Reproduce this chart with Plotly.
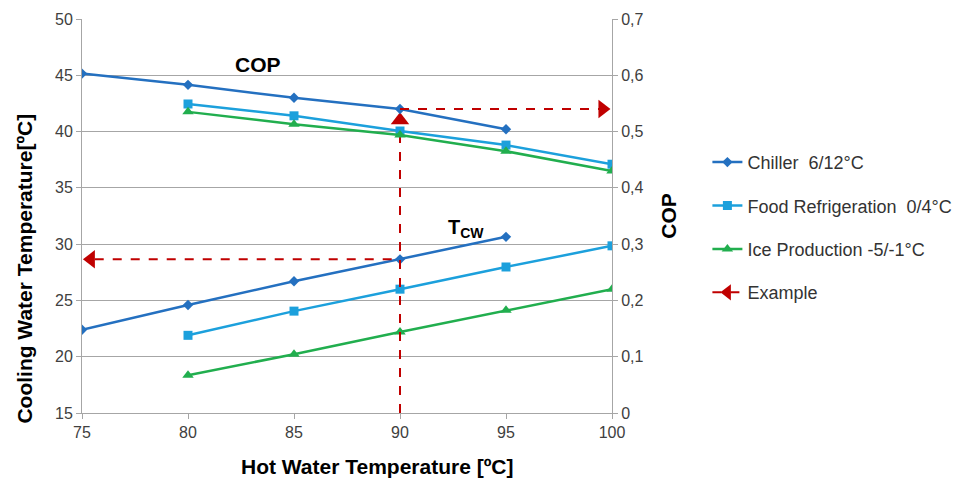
import plotly.graph_objects as go

hot_water = [75, 80, 85, 90, 95, 100]

chiller_x = [75, 80, 85, 90, 95]
chiller_cop = [0.603, 0.583, 0.560, 0.540, 0.504]
chiller_tcw = [22.4, 24.6, 26.7, 28.65, 30.65]

food_x = [80, 85, 90, 95, 100]
food_cop = [0.549, 0.528, 0.501, 0.476, 0.442]
food_tcw = [21.9, 24.05, 26.0, 27.97, 29.85]

ice_x = [80, 85, 90, 95, 100]
ice_cop = [0.535, 0.513, 0.494, 0.465, 0.430]
ice_tcw = [18.36, 20.22, 22.2, 24.13, 26.0]

example_x = 90
example_tcw = 28.65
example_cop = 0.54
example_top = 41.0

left_ticks = [15, 20, 25, 30, 35, 40, 45, 50]
right_ticks = [0, 0.1, 0.2, 0.3, 0.4, 0.5, 0.6, 0.7]
right_ticktext = ["0", "0,1", "0,2", "0,3", "0,4", "0,5", "0,6", "0,7"]

C_CH = "#2470C0"
C_FO = "#1CA0DC"
C_ICE = "#21AE4E"
C_RED = "#C00000"

FONT = "Liberation Sans, Arial, sans-serif"

W, H = 962, 479
ML, MR, MT, MB = 81.5, 349.5, 19, 66
PW, PH = W - ML - MR, H - MT - MB

def px_to_paper(px, py):
    return (px - ML) / PW, 1 - (py - MT) / PH

fig = go.Figure()

series = [
    ("Chiller  6/12°C", chiller_x, chiller_cop, chiller_tcw, C_CH, "diamond", 8),
    ("Food Refrigeration  0/4°C", food_x, food_cop, food_tcw, C_FO, "square", 9),
    ("Ice Production -5/-1°C", ice_x, ice_cop, ice_tcw, C_ICE, "triangle-up", 10),
]
for name, xs, cop, tcw, col, sym, sz in series:
    fig.add_trace(go.Scatter(x=xs, y=tcw, mode="lines+markers", name=name, legendgroup=name,
                             line=dict(color=col, width=2.5), marker=dict(symbol=sym, size=sz, color=col),
                             yaxis="y"))
    fig.add_trace(go.Scatter(x=xs, y=cop, mode="lines+markers", name=name, legendgroup=name,
                             showlegend=False,
                             line=dict(color=col, width=2.5), marker=dict(symbol=sym, size=sz, color=col),
                             yaxis="y2"))

# Example dashed lines
fig.add_trace(go.Scatter(x=[example_x, example_x], y=[15, example_top - 0.8], mode="lines",
                         line=dict(color=C_RED, width=2, dash="dash"), showlegend=False, yaxis="y",
                         cliponaxis=False, legendgroup="ex"))
fig.add_trace(go.Scatter(x=[example_x], y=[example_top], mode="markers",
                         marker=dict(symbol="triangle-up", size=16, color=C_RED), showlegend=False,
                         yaxis="y", legendgroup="ex"))
fig.add_trace(go.Scatter(x=[hot_water[0] + 0.6, example_x], y=[example_tcw, example_tcw], mode="lines",
                         line=dict(color=C_RED, width=2, dash="dash"), showlegend=False, yaxis="y",
                         legendgroup="ex"))
fig.add_trace(go.Scatter(x=[hot_water[0] + 0.42], y=[example_tcw], mode="markers",
                         marker=dict(symbol="triangle-left", size=16, color=C_RED), showlegend=False,
                         yaxis="y", cliponaxis=False, legendgroup="ex"))
fig.add_trace(go.Scatter(x=[example_x, hot_water[-1] - 0.6], y=[example_cop, example_cop], mode="lines",
                         line=dict(color=C_RED, width=2, dash="dash"), showlegend=False, yaxis="y2",
                         legendgroup="ex"))
fig.add_trace(go.Scatter(x=[hot_water[-1] - 0.45], y=[example_cop], mode="markers",
                         marker=dict(symbol="triangle-right", size=16, color=C_RED), showlegend=False,
                         yaxis="y2", cliponaxis=False, legendgroup="ex"))
# legend entry for Example
fig.add_trace(go.Scatter(x=[None], y=[None], mode="lines+markers", name="Example", legendgroup="ex",
                         line=dict(color=C_RED, width=2, dash="dash"),
                         marker=dict(symbol="triangle-left", size=14, color=C_RED), yaxis="y"))

fig.add_annotation(x=83.3, y=46.0, xref="x", yref="y", text="<b>COP</b>", showarrow=False,
                   font=dict(size=21, color="#000", family=FONT))
fig.add_annotation(x=93.1, y=31.4, xref="x", yref="y", text="<b>T<sub>CW</sub></b>", showarrow=False,
                   font=dict(size=20, color="#000", family=FONT))

title_font = dict(size=21, color="#000", family=FONT)
# axis titles (placed as in the reference, off-centre)
lx, ly = px_to_paper(23, 269)
fig.add_annotation(x=lx, y=ly, xref="paper", yref="paper", text="<b>Cooling Water Temperature[ºC]</b>",
                   textangle=-90, showarrow=False, font=title_font, xanchor="center", yanchor="middle")
bx, by = px_to_paper(378, 466)
fig.add_annotation(x=bx, y=by, xref="paper", yref="paper", text="<b>Hot Water Temperature [ºC]</b>",
                   showarrow=False, font=title_font, xanchor="center", yanchor="middle")

axis_font = dict(size=16, color="#404040", family=FONT)

fig.update_layout(
    width=W, height=H,
    margin=dict(l=ML, r=MR, t=MT, b=MB, autoexpand=False),
    paper_bgcolor="white", plot_bgcolor="white",
    font=dict(family=FONT),
    xaxis=dict(range=[75, 100], tickvals=hot_water, showgrid=False, showline=True,
               linecolor="#A6A6A6", linewidth=1, ticks="outside", ticklen=5, tickcolor="#A6A6A6",
               tickfont=axis_font, zeroline=False, automargin=False),
    yaxis=dict(range=[15, 50], tickvals=left_ticks, showgrid=True, gridcolor="#A6A6A6", gridwidth=1,
               showline=True, linecolor="#A6A6A6", ticks="outside", ticklen=5, tickcolor="#A6A6A6",
               tickfont=axis_font, zeroline=False, automargin=False),
    yaxis2=dict(range=[0, 0.7], tickvals=right_ticks, ticktext=right_ticktext, overlaying="y",
                side="right", showgrid=False, showline=True, linecolor="#A6A6A6", ticks="outside",
                ticklen=5, tickcolor="#A6A6A6", tickfont=axis_font, zeroline=False, automargin=False,
                title=dict(text="<b>COP</b>", font=title_font, standoff=18)),
    legend=dict(x=1.18, y=0.683, xanchor="left", yanchor="top", tracegroupgap=17,
                font=dict(size=18, color="#333", family=FONT),
                bgcolor="rgba(0,0,0,0)"),
    showlegend=True,
)

fig.write_html("out.html")
